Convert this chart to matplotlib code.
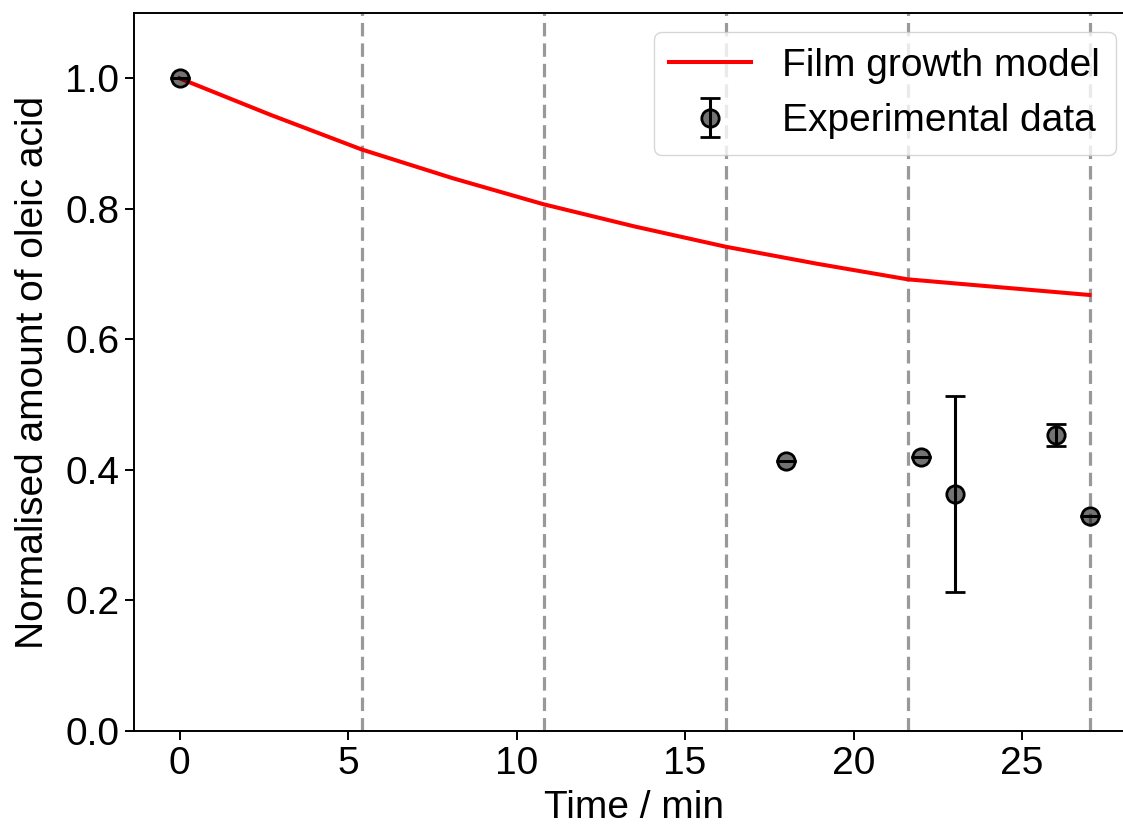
import matplotlib
matplotlib.use("Agg")
import matplotlib.pyplot as plt

plt.rcParams['font.family'] = ['Liberation Sans', 'DejaVu Sans']
plt.rcParams['font.size'] = 28

# Film growth model (piecewise, kinks at layer times)
model_t = [0.0, 2.7, 5.4, 8.1, 10.8, 13.5, 16.2, 18.9, 21.6, 24.3, 27.0]
model_y = [1.000, 0.944, 0.891, 0.847, 0.807, 0.773, 0.742, 0.716, 0.692, 0.680, 0.668]

# Experimental data
exp_t = [0, 18, 22, 23, 26, 27]
exp_y = [1.000, 0.414, 0.420, 0.363, 0.453, 0.329]
exp_err = [0.0, 0.0, 0.0, 0.150, 0.017, 0.0]

# Vertical dashed lines
vlines_t = [5.4, 10.8, 16.2, 21.6, 27.0]

xticks = [0, 5, 10, 15, 20, 25]
yticks = [0.0, 0.2, 0.4, 0.6, 0.8, 1.0]

fig = plt.figure(figsize=(11.23, 8.27), dpi=100)
W, H = 1123, 827
left_px, right_px, top_px, bot_px = 134, 1135, 13, 731
ax = fig.add_axes([left_px / W, 1 - bot_px / H, (right_px - left_px) / W, (bot_px - top_px) / H])

for xv in vlines_t:
    ax.axvline(xv, color='#999999', lw=2.3, linestyle=(0, (4.2, 2.2)), zorder=1)

ax.plot(model_t, model_y, color='red', lw=2.9, label='Film growth model', zorder=2)
ax.errorbar(exp_t, exp_y, yerr=exp_err, fmt='o', color='black', ecolor='black',
            markerfacecolor=(0, 0, 0, 0.55), markeredgecolor='black', markersize=12.5,
            markeredgewidth=2, elinewidth=2.2, capsize=7.5, capthick=2.2,
            label='Experimental data', zorder=3)

ax.set_xlim(-1.35, 28.35)
ax.set_ylim(0, 1.1)
ax.set_xticks(xticks)
ax.set_yticks(yticks)
ax.set_xticklabels([str(t) for t in xticks])
ax.set_yticklabels([f"{t:.1f}" for t in yticks])
ax.tick_params(length=6.5, width=1.4, pad=4, labelsize=28)
for s in ax.spines.values():
    s.set_linewidth(1.4)

ax.set_xlabel('Time / min', fontsize=28, labelpad=6)
ax.set_ylabel('Normalised amount of oleic acid', fontsize=28, labelpad=10)

ax.legend(loc='upper right', fontsize=28, handlelength=2.1, handletextpad=0.8)

fig.savefig('out.png', dpi=100)
